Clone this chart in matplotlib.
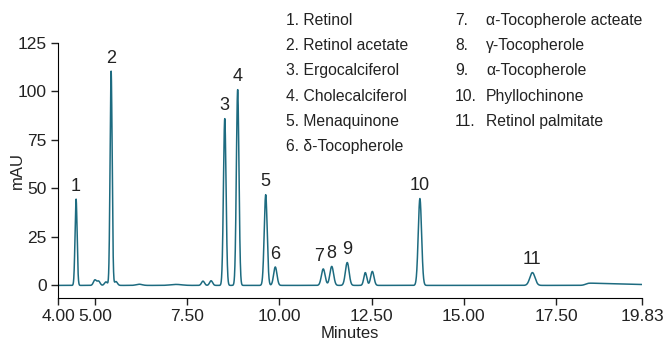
import numpy as np
import matplotlib
matplotlib.use("Agg")
import matplotlib.pyplot as plt

plt.rcParams['font.family'] = ['Liberation Sans', 'DejaVu Sans']

# peak table (retention time, height mAU, width sigma)
peak_time = [4.49, 5.44, 8.52, 8.87, 9.63, 9.89, 11.19, 11.42, 11.84, 12.33, 12.52, 13.81, 16.86,
             5.00, 5.10, 5.30, 5.57, 7.93, 8.15, 6.2, 7.2]
peak_height = [44.5, 110.5, 86.0, 101.0, 46.8, 9.5, 8.5, 9.8, 11.8, 6.6, 7.2, 44.8, 6.6,
               2.8, 2.2, 1.8, 2.0, 2.2, 2.4, 0.6, 0.5]
peak_sigma = [0.028, 0.028, 0.035, 0.035, 0.04, 0.045, 0.05, 0.05, 0.05, 0.04, 0.045, 0.045, 0.07,
              0.04, 0.04, 0.04, 0.04, 0.04, 0.04, 0.08, 0.15]
peak_labels = ['1', '2', '3', '4', '5', '6', '7', '8', '9', '', '', '10', '11']

names_left = ['1. Retinol', '2. Retinol acetate', '3. Ergocalciferol', '4. Cholecalciferol',
              '5. Menaquinone', '6. δ-Tocopherole']
nums_right = ['7.', '8.', '9.', '10.', '11.']
names_right = ['α-Tocopherole acteate', 'γ-Tocopherole', 'α-Tocopherole', 'Phyllochinone',
               'Retinol palmitate']

xticks = [4.00, 5.00, 7.50, 10.00, 12.50, 15.00, 17.50, 19.83]
yticks = [0, 25, 50, 75, 100, 125]

color = '#1d6b80'
txt = '#222222'

t = np.linspace(4.0, 19.83, 6000)
signal = np.zeros_like(t)
for tr, h, s in zip(peak_time, peak_height, peak_sigma):
    signal += h * np.exp(-0.5 * ((t - tr) / s) ** 2)
# broad late hump starting near 18.3 min
signal += 1.3 / (1 + np.exp(-(t - 18.3) / 0.04)) * np.exp(-np.clip(t - 18.3, 0, None) / 1.5)

fig = plt.figure(figsize=(6.68, 3.47), dpi=100)
ax = fig.add_axes([58/668, 1-298/347, (642-58)/668, (298-43)/347])
ax.plot(t, signal, color=color, lw=1.1)
ax.set_xlim(4.0, 19.83)
ax.set_ylim(-6.5, 125)
ax.spines['top'].set_visible(False)
ax.spines['right'].set_visible(False)
ax.set_xticks(xticks)
ax.set_xticklabels(['%.2f' % v for v in xticks])
ax.set_yticks(yticks)
ax.tick_params(labelsize=12.5, length=5, width=1, colors=txt, pad=3)
ax.set_xlabel('Minutes', fontsize=12, color=txt, labelpad=1)
ax.set_ylabel('mAU', fontsize=12, color=txt)
ax.yaxis.set_label_coords(-33/584, 0.5)

for lab, tr, h in zip(peak_labels, peak_time, peak_height):
    if lab:
        dx = -3 if lab == '7' else 0
        ax.annotate(lab, (tr, h), xytext=(dx, 3), textcoords='offset points',
                    ha='center', va='bottom', fontsize=13, color=txt)

row_y = [25, 50, 75, 101, 126, 151]
fs = 11.3
for i, name in enumerate(names_left):
    fig.text(286/668, 1 - row_y[i]/347, name, fontsize=fs, va='baseline', ha='left', color=txt)
for i, (n, name) in enumerate(zip(nums_right, names_right)):
    fig.text(455/668, 1 - row_y[i]/347, n, fontsize=fs, va='baseline', ha='left', color=txt)
    fig.text(486/668, 1 - row_y[i]/347, name, fontsize=fs, va='baseline', ha='left', color=txt)

fig.savefig('out.png', dpi=100)
